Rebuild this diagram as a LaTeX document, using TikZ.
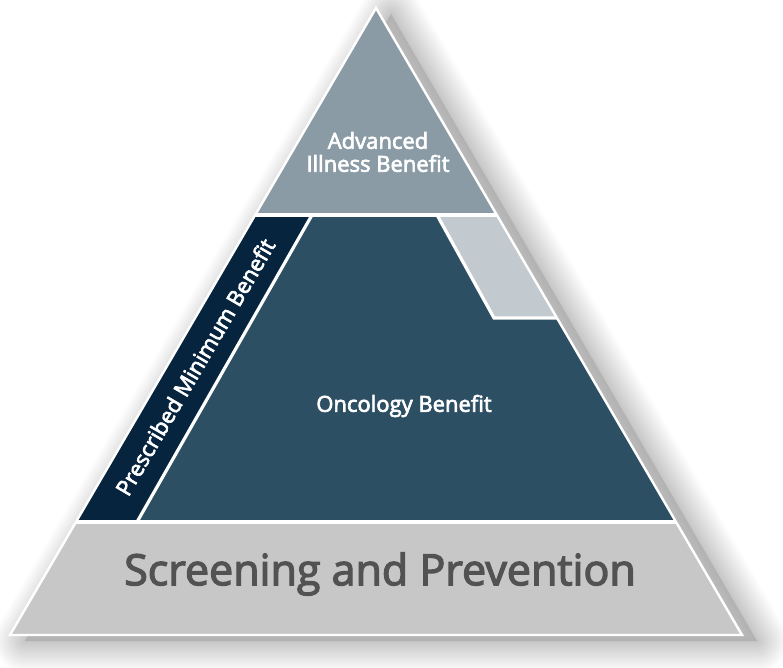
\documentclass[tikz,border=0pt]{standalone}
\usepackage{fontspec}
\setmainfont{Open Sans}
\newfontfamily\osemi{Open Sans}[FakeBold=3]
\definecolor{topc}{HTML}{8A9BA6}
\definecolor{onc}{HTML}{2D4F63}
\definecolor{navyc}{HTML}{06243D}
\definecolor{lightc}{HTML}{C2CAD0}
\definecolor{botc}{HTML}{C6C7C6}
\definecolor{txtgray}{HTML}{525252}
\tikzset{
  sepline/.style={white, line width=3.2pt},
  lbl/.style={text=white, font=\osemi\fontsize{22}{23}\selectfont, inner sep=0pt},
}
\begin{document}
\begin{tikzpicture}[x=1pt,y=-1pt]
\useasboundingbox (0,0) rectangle (783,668);
% soft shadow
\fill[black, opacity=0.13, shift={(15,6)}] (376,8) -- (10,635) -- (742,635) -- cycle;
\foreach \i in {1,...,28} {
  \draw[black, opacity=0.0075, line width=\i*2.2pt, line join=round, shift={(15,6)}]
    (376,8) -- (10,635) -- (742,635) -- cycle;
}
\coordinate (A) at (376,8);
\coordinate (L) at (10,635);
\coordinate (R) at (742,635);
\begin{scope}
  \clip (A) -- (L) -- (R) -- cycle;
  \fill[topc] (0,0) rectangle (783,215);
  \fill[onc] (0,215) rectangle (783,522);
  \fill[botc] (0,522) rectangle (783,668);
  \fill[navyc] (0,215) -- (312,215) -- (137,522) -- (0,522) -- cycle;
  \fill[lightc] (437,215) -- (783,215) -- (783,318) -- (494,318) -- cycle;
  \coordinate (n1) at (312,215);
  \coordinate (n2) at (137,522);
  \coordinate (l1) at (437,215);
  \coordinate (l2) at (494,318);
  \coordinate (l3) at (600,318);
  \coordinate (h1) at (0,215);
  \coordinate (h2) at (783,215);
  \coordinate (h3) at (0,522);
  \coordinate (h4) at (783,522);
  \draw[sepline] (n1) -- (n2);
  \draw[sepline] (l1) -- (l2) -- (l3);
  \draw[sepline] (h1) -- (h2);
  \draw[sepline] (h3) -- (h4);
\end{scope}
\draw[white, line width=2.4pt, line join=miter] (A) -- (L) -- (R) -- cycle;
% labels
\node[lbl, align=center] (adv) at (378,152) {Advanced\\Illness Benefit};
\node[lbl] (onco) at (404,406) {Oncology Benefit};
\node[lbl, rotate=59.7] (pmb) at (195,367) {Prescribed Minimum Benefit};
\node[text=txtgray, font=\osemi\fontsize{43}{46}\selectfont, inner sep=0pt] (scr) at (380,574) {Screening and Prevention};
\end{tikzpicture}
\end{document}
